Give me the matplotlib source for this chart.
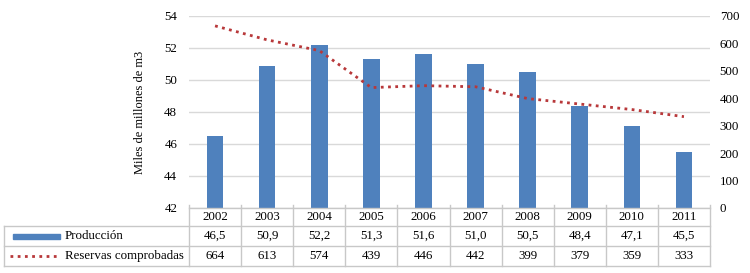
import matplotlib
matplotlib.use("Agg")
import matplotlib.pyplot as plt
from matplotlib.patches import Rectangle
from matplotlib.lines import Line2D

years = ["2002", "2003", "2004", "2005", "2006", "2007", "2008", "2009", "2010", "2011"]
produccion = [46.5, 50.9, 52.2, 51.3, 51.6, 51.0, 50.5, 48.4, 47.1, 45.5]
reservas = [664, 613, 574, 439, 446, 442, 399, 379, 359, 333]
prod_labels = ["46,5", "50,9", "52,2", "51,3", "51,6", "51,0", "50,5", "48,4", "47,1", "45,5"]
series_names = ["Producción", "Reservas comprobadas"]
left_ticks = [42, 44, 46, 48, 50, 52, 54]
right_ticks = [0, 100, 200, 300, 400, 500, 600, 700]

plt.rcParams['font.family'] = ['Liberation Serif', 'DejaVu Serif']
FS = 9.3

W, H = 750, 273
fig = plt.figure(figsize=(W / 100, H / 100), dpi=100)
axL, axR, axT, axB = 189, 710, 16, 208
ax = fig.add_axes([axL / W, 1 - axB / H, (axR - axL) / W, (axB - axT) / H])

bar_color = '#4F81BD'
line_color = '#B8383A'
grid_color = '#D9D9D9'
border_color = '#C8C8C8'

x = list(range(len(years)))
ax.bar(x, [p - 42 for p in produccion], bottom=42, width=0.32, color=bar_color, zorder=3)
ax.set_xlim(-0.5, len(years) - 0.5)
ax.set_ylim(42, 54)
ax.set_yticks(left_ticks)
ax.set_yticklabels([str(t) for t in left_ticks])
ax.set_xticks([])
ax.grid(axis='y', color=grid_color, linewidth=1, zorder=0)
for s in ax.spines.values():
    s.set_visible(False)
ax.tick_params(axis='y', length=0, pad=8.5, labelsize=FS)
ax.set_ylabel("Miles de millones de m3", fontsize=9)
ax.yaxis.set_label_coords((146 - axL) / (axR - axL), 0.5)

ax2 = ax.twinx()
ax2.plot(x, reservas, color=line_color, linestyle=(0, (1, 1.6)), linewidth=2, zorder=4)
ax2.set_ylim(0, 700)
ax2.set_yticks(right_ticks)
ax2.set_yticklabels([str(t) for t in right_ticks])
for s in ax2.spines.values():
    s.set_visible(False)
ax2.tick_params(axis='y', length=0, pad=7, labelsize=FS)
ax2.set_xlim(-0.5, len(years) - 0.5)

# table drawn in pixel-based coordinates
unit = (axR - axL) / len(years)
def fx(px):
    return (px - axL) / (axR - axL)
def fy(py):
    return (axB - py) / (axB - axT)

rows = [208, 226, 246, 266]
tleft = 4
tr = ax.transAxes
def hline(x0, x1, y):
    ax.add_line(Line2D([fx(x0), fx(x1)], [fy(y), fy(y)], transform=tr, color=border_color,
                       linewidth=1, clip_on=False, zorder=5))
def vline(xp, y0, y1):
    ax.add_line(Line2D([fx(xp), fx(xp)], [fy(y0), fy(y1)], transform=tr, color=border_color,
                       linewidth=1, clip_on=False, zorder=5))

hline(axL, axR, rows[0])
hline(tleft, axR, rows[1])
hline(tleft, axR, rows[2])
hline(tleft, axR, rows[3])
vline(tleft, rows[1], rows[3])
for i in range(len(years) + 1):
    vline(axL + i * unit, rows[0] - 3, rows[3])

for i, yr in enumerate(years):
    cx = fx(axL + (i + 0.5) * unit)
    ax.text(cx, fy((rows[0] + rows[1]) / 2), yr, transform=tr, ha='center', va='center',
            fontsize=FS, clip_on=False)
    ax.text(cx, fy((rows[1] + rows[2]) / 2), prod_labels[i], transform=tr, ha='center',
            va='center', fontsize=FS, clip_on=False)
    ax.text(cx, fy((rows[2] + rows[3]) / 2), str(reservas[i]), transform=tr, ha='center',
            va='center', fontsize=FS, clip_on=False)

# legend keys
ym1 = (rows[1] + rows[2]) / 2
ax.add_patch(Rectangle((fx(13), fy(ym1 + 2.5)), fx(60) - fx(13), fy(ym1 - 2.5) - fy(ym1 + 2.5),
                       transform=tr, color=bar_color, clip_on=False))
ax.text(fx(65), fy(ym1), series_names[0], transform=tr, ha='left', va='center', fontsize=FS,
        clip_on=False)
ym2 = (rows[2] + rows[3]) / 2
ax.add_line(Line2D([fx(10), fx(60)], [fy(ym2), fy(ym2)], transform=tr, color=line_color,
                   linestyle=(0, (1, 1.6)), linewidth=2, clip_on=False))
ax.text(fx(65), fy(ym2), series_names[1], transform=tr, ha='left', va='center', fontsize=FS,
        clip_on=False)

fig.savefig("out.png", dpi=100)
